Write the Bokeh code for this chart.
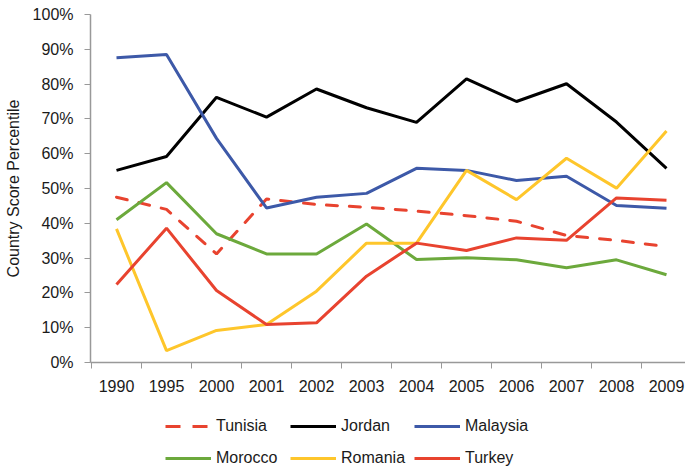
from bokeh.plotting import figure
from bokeh.models import Range1d, FixedTicker, Legend, LegendItem
from bokeh.layouts import column
from bokeh.embed import file_html
from bokeh.resources import INLINE

years = ["1990", "1995", "2000", "2001", "2002", "2003", "2004", "2005", "2006", "2007", "2008", "2009"]
tunisia = [47.5, 44.0, 31.2, 47.0, 45.4, 44.6, 43.5, 42.2, 40.6, 36.5, 35.1, 33.3]
jordan = [55.2, 59.2, 76.2, 70.5, 78.6, 73.2, 69.0, 81.5, 75.0, 80.1, 69.1, 55.8]
malaysia = [87.6, 88.5, 64.4, 44.4, 47.5, 48.6, 55.8, 55.2, 52.3, 53.5, 45.1, 44.3]
morocco = [41.0, 51.7, 37.0, 31.2, 31.2, 39.8, 29.6, 30.1, 29.5, 27.2, 29.5, 25.2]
romania = [38.4, 3.4, 9.2, 10.9, 20.5, 34.3, 34.3, 55.2, 46.8, 58.7, 50.1, 66.5]
turkey = [22.4, 38.6, 20.7, 10.9, 11.4, 24.8, 34.3, 32.2, 35.8, 35.1, 47.3, 46.6]
y_ticks = [0, 10, 20, 30, 40, 50, 60, 70, 80, 90, 100]

FONT = "Liberation Sans"
TXT = "#1a1a1a"
AX = "#999999"
xs = list(range(len(years)))

W = 685
p = figure(width=W, height=402, output_backend="svg", toolbar_location=None,
           x_range=Range1d(-0.52, 11.38), y_range=Range1d(0, 100),
           min_border_left=90, min_border_right=0, min_border_top=14, min_border_bottom=40)
p.outline_line_color = None
p.xgrid.visible = False
p.ygrid.visible = False

series = [
    ("Tunisia", tunisia, "#E8432F", "11 12", "round"),
    ("Jordan", jordan, "#000000", "solid", "butt"),
    ("Malaysia", malaysia, "#3D59A8", "solid", "butt"),
    ("Morocco", morocco, "#6CA93C", "solid", "butt"),
    ("Romania", romania, "#FEC62B", "solid", "butt"),
    ("Turkey", turkey, "#E8432F", "solid", "butt"),
]
for name, vals, col, dash, cap in series:
    p.line(xs, vals, line_color=col, line_width=3, line_dash=dash, line_cap=cap)

# x axis
p.xaxis.ticker = FixedTicker(ticks=xs, minor_ticks=[i - 0.5 for i in range(len(years) + 1)])
p.xaxis.major_label_overrides = {i: y for i, y in enumerate(years)}
p.xaxis.major_tick_line_color = None
p.xaxis.major_tick_out = 0
p.xaxis.major_tick_in = 0
p.xaxis.minor_tick_out = 6
p.xaxis.minor_tick_in = 0
p.xaxis.minor_tick_line_color = AX
p.xaxis.axis_line_color = AX
p.xaxis.axis_line_width = 1.5
p.xaxis.major_label_standoff = 11
p.xaxis.major_label_text_font = FONT
p.xaxis.major_label_text_font_size = "16px"
p.xaxis.major_label_text_color = TXT

# y axis
p.yaxis.ticker = FixedTicker(ticks=y_ticks, minor_ticks=[])
p.yaxis.major_label_overrides = {t: f"{t}%" for t in y_ticks}
p.yaxis.major_tick_out = 6
p.yaxis.major_tick_in = 0
p.yaxis.major_tick_line_color = AX
p.yaxis.axis_line_color = AX
p.yaxis.axis_line_width = 1.5
p.yaxis.major_label_standoff = 11
p.yaxis.major_label_text_font = FONT
p.yaxis.major_label_text_font_size = "16px"
p.yaxis.major_label_text_color = TXT
p.yaxis.axis_label = "Country Score Percentile"
p.yaxis.axis_label_text_font = FONT
p.yaxis.axis_label_text_font_size = "16px"
p.yaxis.axis_label_text_font_style = "normal"
p.yaxis.axis_label_text_color = TXT
p.yaxis.axis_label_standoff = 8

# legend figure (its lines sit outside its visible range; only the legend shows)
lg = figure(width=W, height=67, output_backend="svg", toolbar_location=None,
            x_range=Range1d(100, 101), y_range=Range1d(1000, 1001),
            x_axis_location=None, y_axis_location=None,
            min_border_left=90, min_border_right=0, min_border_top=0, min_border_bottom=0)
lg.outline_line_color = None
lg.xgrid.visible = False
lg.ygrid.visible = False

legend_cols = [["Tunisia", "Morocco"], ["Jordan", "Romania"], ["Malaysia", "Turkey"]]
legend_x = [75, 200, 324]
data = {s[0]: s[1:] for s in series}
for names, lx in zip(legend_cols, legend_x):
    items = []
    for name in names:
        vals, col, dash, cap = data[name]
        if name == "Tunisia":
            dash = "15 12"
            cap = "butt"
        r = lg.line(xs, vals, line_color=col, line_width=3, line_dash=dash, line_cap=cap)
        items.append(LegendItem(label=name, renderers=[r]))
    leg = Legend(items=items, orientation="vertical", location=(lx, 2),
                 glyph_width=46, glyph_height=16, label_height=16, label_width=60,
                 label_standoff=5, spacing=14, padding=0, margin=0,
                 border_line_color=None, background_fill_alpha=0,
                 label_text_font=FONT, label_text_font_size="16px",
                 label_text_color=TXT)
    lg.add_layout(leg, "center")

layout = column(p, lg)
open("out.html", "w").write(file_html(layout, INLINE))
